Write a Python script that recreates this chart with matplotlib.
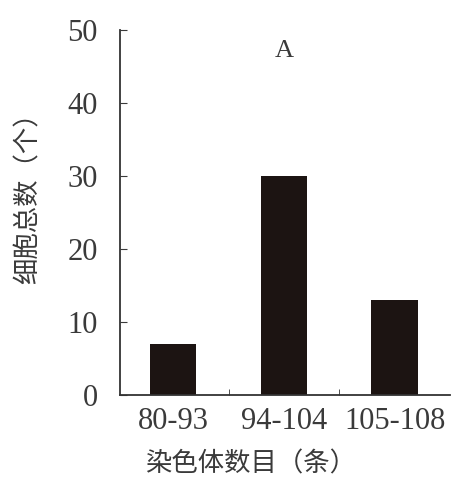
import matplotlib
matplotlib.use('Agg')
import matplotlib.pyplot as plt
import numpy as np

# chromosome number groups and cell counts
categories = ['80-93', '94-104', '105-108']
counts = [7, 30, 13]

plt.rcParams['font.family'] = ['Liberation Serif', 'Noto Sans CJK SC']
txt_color = '#3a3a3a'

fig = plt.figure(figsize=(4.51, 4.78), dpi=100)
ax = fig.add_axes([0.266, 0.174, 0.732, 0.763])

x = np.arange(len(categories))
ax.bar(x, counts, width=0.42, color='#1c1412')

ax.set_xlim(-0.48, 2.5)
ax.set_ylim(0, 50)
ax.set_yticks([0, 10, 20, 30, 40, 50])
ax.set_xticks(x)
ax.set_xticklabels(categories)
ax.set_xticks([0.5, 1.5], minor=True)

for s in ['top', 'right']:
    ax.spines[s].set_visible(False)
for s in ['left', 'bottom']:
    ax.spines[s].set_color('#333333')
    ax.spines[s].set_linewidth(1.3)

ax.tick_params(axis='y', direction='in', length=5, labelsize=22, colors=txt_color, pad=16)
ax.tick_params(axis='x', which='major', length=0, labelsize=22, colors=txt_color, pad=9)
ax.tick_params(axis='x', which='minor', direction='in', length=4, color='#333333')

ax.text(1, 47.2, 'A', ha='center', va='center', fontsize=19, color=txt_color)

fig.text(0.062, 0.6, '细胞总数（个）', rotation=90, ha='center', va='center',
         fontsize=19, color=txt_color, family=['Noto Sans CJK SC'])
fig.text(0.555, 0.03, '染色体数目（条）', ha='center', va='center',
         fontsize=19, color=txt_color, family=['Noto Sans CJK SC'])

fig.savefig('out.png', dpi=100)
